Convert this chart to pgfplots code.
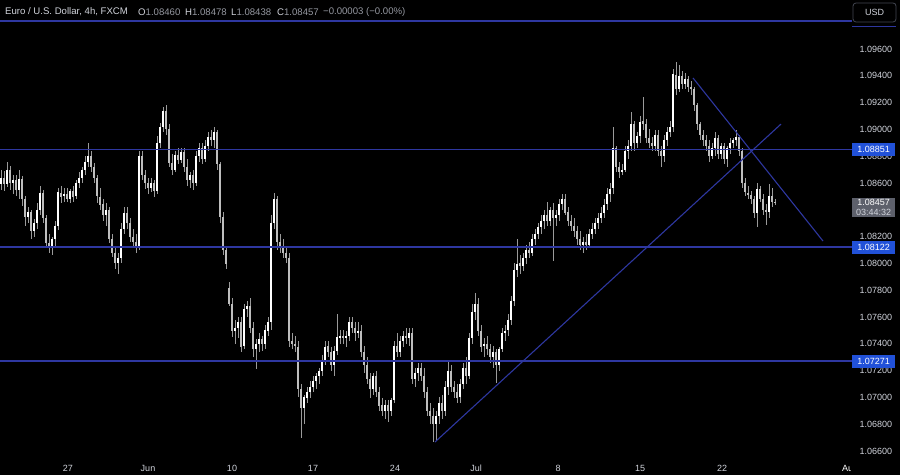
\documentclass[border=0pt]{standalone}
\usepackage{pgfplots}
\pgfplotsset{compat=1.18}
\usepackage{pgfplotstable}
\usepackage{fontspec}
\setmainfont{Liberation Sans}
\definecolor{lvl}{HTML}{2E37A0}
\definecolor{txt}{HTML}{D1D4DC}
\definecolor{val}{HTML}{9598A1}
\definecolor{lblue}{HTML}{2151D8}
\definecolor{lgray}{HTML}{5D606B}
\definecolor{wick}{HTML}{9A9A9A}
\definecolor{dn}{HTML}{BEBEBE}
\definecolor{btn}{HTML}{434651}

\pgfplotstableread{
x o h l c
1 1.0859 1.0870 1.0855 1.0864
4 1.0864 1.0869 1.0854 1.0859
7 1.0859 1.0876 1.0857 1.0870
10 1.0870 1.0873 1.0855 1.0860
13 1.0860 1.0866 1.0852 1.0862
16 1.0862 1.0866 1.0850 1.0855
19 1.0855 1.0870 1.0848 1.0863
22 1.0863 1.0865 1.0843 1.0848
25 1.0848 1.0850 1.0828 1.0835
28 1.0835 1.0842 1.0830 1.0838
31 1.0838 1.0840 1.0818 1.0824
34 1.0824 1.0833 1.0820 1.0830
37 1.0830 1.0845 1.0826 1.0840
40 1.0840 1.0858 1.0836 1.0853
43 1.0853 1.0855 1.0830 1.0834
46 1.0834 1.0836 1.0812 1.0815
49 1.0815 1.0822 1.0808 1.0812
52 1.0812 1.0820 1.0806 1.0818
55 1.0818 1.0832 1.0812 1.0828
58 1.0828 1.0856 1.0825 1.0853
61 1.0853 1.0858 1.0845 1.0850
64 1.0850 1.0856 1.0846 1.0852
67 1.0852 1.0856 1.0846 1.0848
70 1.0848 1.0856 1.0845 1.0854
73 1.0854 1.0858 1.0846 1.0850
76 1.0850 1.0862 1.0848 1.0860
79 1.0860 1.0868 1.0856 1.0864
82 1.0864 1.0872 1.0860 1.0870
85 1.0870 1.0880 1.0866 1.0876
88 1.0876 1.0890 1.0872 1.0880
91 1.0880 1.0884 1.0868 1.0872
94 1.0872 1.0875 1.0860 1.0864
97 1.0864 1.0866 1.0845 1.0850
100 1.0850 1.0856 1.0840 1.0844
103 1.0844 1.0848 1.0832 1.0836
106 1.0836 1.0845 1.0828 1.0840
109 1.0840 1.0842 1.0815 1.0818
112 1.0818 1.0822 1.0805 1.0808
115 1.0808 1.0812 1.0796 1.0800
118 1.0800 1.0808 1.0792 1.0804
121 1.0804 1.0830 1.0800 1.0826
124 1.0826 1.0842 1.0822 1.0838
127 1.0838 1.0842 1.0826 1.0830
130 1.0830 1.0834 1.0816 1.0820
133 1.0820 1.0826 1.0812 1.0816
136 1.0816 1.0822 1.0808 1.0813
139 1.0813 1.0884 1.0810 1.0880
142 1.0880 1.0884 1.0862 1.0866
145 1.0866 1.0870 1.0856 1.0860
148 1.0860 1.0864 1.0852 1.0856
151 1.0856 1.0864 1.0853 1.0860
154 1.0860 1.0862 1.0850 1.0854
157 1.0854 1.0895 1.0852 1.0890
160 1.0890 1.0905 1.0886 1.0902
163 1.0902 1.0917 1.0898 1.0914
166 1.0914 1.0918 1.0896 1.0900
169 1.0900 1.0904 1.0872 1.0875
172 1.0875 1.0882 1.0866 1.0870
175 1.0870 1.0884 1.0868 1.0881
178 1.0881 1.0886 1.0874 1.0877
181 1.0877 1.0886 1.0875 1.0883
184 1.0883 1.0886 1.0868 1.0872
187 1.0872 1.0878 1.0858 1.0862
190 1.0862 1.0868 1.0856 1.0866
193 1.0866 1.0870 1.0855 1.0860
196 1.0860 1.0884 1.0858 1.0880
199 1.0880 1.0890 1.0876 1.0886
202 1.0886 1.0890 1.0874 1.0878
205 1.0878 1.0892 1.0876 1.0888
208 1.0888 1.0898 1.0884 1.0894
211 1.0894 1.0900 1.0888 1.0892
214 1.0892 1.0902 1.0886 1.0898
217 1.0898 1.0900 1.0870 1.0874
220 1.0874 1.0876 1.0830 1.0835
223 1.0835 1.0838 1.0806 1.0810
226 1.0810 1.0812 1.0796 1.0800
229 1.0782 1.0786 1.0768 1.0770
232 1.0770 1.0774 1.0745 1.0750
235 1.0750 1.0758 1.0740 1.0752
238 1.0752 1.0760 1.0744 1.0756
241 1.0756 1.0760 1.0734 1.0738
244 1.0738 1.0770 1.0736 1.0766
247 1.0766 1.0772 1.0760 1.0768
250 1.0768 1.0774 1.0748 1.0752
253 1.0752 1.0756 1.0730 1.0736
256 1.0736 1.0744 1.0721 1.0740
259 1.0740 1.0748 1.0734 1.0744
262 1.0744 1.0746 1.0735 1.0740
265 1.0740 1.0754 1.0736 1.0750
268 1.0750 1.0760 1.0746 1.0756
271 1.0756 1.0836 1.0750 1.0830
274 1.0830 1.0853 1.0826 1.0848
277 1.0848 1.0850 1.0810 1.0816
280 1.0816 1.0822 1.0808 1.0812
283 1.0812 1.0818 1.0804 1.0808
286 1.0808 1.0812 1.0800 1.0804
289 1.0804 1.0808 1.0738 1.0742
292 1.0742 1.0748 1.0736 1.0740
295 1.0740 1.0746 1.0734 1.0738
298 1.0738 1.0742 1.0700 1.0706
301 1.0706 1.0710 1.0670 1.0692
304 1.0692 1.0702 1.0680 1.0700
307 1.0700 1.0708 1.0696 1.0704
310 1.0704 1.0712 1.0700 1.0708
313 1.0708 1.0716 1.0704 1.0712
316 1.0712 1.0718 1.0706 1.0716
319 1.0716 1.0722 1.0710 1.0720
322 1.0720 1.0732 1.0716 1.0728
325 1.0728 1.0742 1.0724 1.0738
328 1.0738 1.0742 1.0730 1.0734
331 1.0734 1.0738 1.0720 1.0724
334 1.0724 1.0738 1.0716 1.0735
337 1.0735 1.0762 1.0732 1.0745
340 1.0745 1.0750 1.0740 1.0746
343 1.0746 1.0750 1.0740 1.0744
346 1.0744 1.0750 1.0738 1.0746
349 1.0746 1.0760 1.0742 1.0756
352 1.0756 1.0760 1.0748 1.0752
355 1.0752 1.0756 1.0742 1.0748
358 1.0748 1.0756 1.0744 1.0750
361 1.0750 1.0754 1.0730 1.0734
364 1.0734 1.0738 1.0718 1.0724
367 1.0724 1.0730 1.0710 1.0714
370 1.0714 1.0718 1.0700 1.0706
373 1.0706 1.0718 1.0702 1.0716
376 1.0716 1.0720 1.0700 1.0704
379 1.0704 1.0708 1.0690 1.0694
382 1.0694 1.0700 1.0686 1.0690
385 1.0690 1.0698 1.0684 1.0694
388 1.0694 1.0698 1.0682 1.0690
391 1.0690 1.0700 1.0686 1.0698
394 1.0698 1.0742 1.0696 1.0738
397 1.0738 1.0748 1.0730 1.0734
400 1.0734 1.0746 1.0730 1.0742
403 1.0742 1.0750 1.0738 1.0746
406 1.0746 1.0752 1.0740 1.0744
409 1.0744 1.0752 1.0738 1.0748
412 1.0748 1.0752 1.0710 1.0714
415 1.0714 1.0722 1.0708 1.0718
418 1.0718 1.0726 1.0712 1.0722
421 1.0722 1.0726 1.0712 1.0716
424 1.0716 1.0722 1.0700 1.0704
427 1.0704 1.0708 1.0686 1.0690
430 1.0690 1.0696 1.0680 1.0686
433 1.0686 1.0692 1.0667 1.0680
436 1.0680 1.0690 1.0668 1.0686
439 1.0686 1.0700 1.0680 1.0696
442 1.0696 1.0702 1.0684 1.0690
445 1.0690 1.0712 1.0686 1.0708
448 1.0708 1.0727 1.0702 1.0720
451 1.0720 1.0724 1.0704 1.0708
454 1.0708 1.0712 1.0700 1.0704
457 1.0704 1.0710 1.0696 1.0700
460 1.0700 1.0714 1.0696 1.0710
463 1.0710 1.0726 1.0706 1.0722
466 1.0722 1.0730 1.0710 1.0716
469 1.0716 1.0748 1.0714 1.0744
472 1.0744 1.0770 1.0740 1.0764
475 1.0764 1.0778 1.0758 1.0770
478 1.0770 1.0774 1.0746 1.0750
481 1.0750 1.0754 1.0734 1.0738
484 1.0738 1.0744 1.0730 1.0740
487 1.0740 1.0746 1.0732 1.0736
490 1.0736 1.0740 1.0726 1.0730
493 1.0730 1.0738 1.0722 1.0734
496 1.0734 1.0736 1.0711 1.0724
499 1.0724 1.0738 1.0720 1.0736
502 1.0736 1.0752 1.0734 1.0748
505 1.0748 1.0754 1.0742 1.0750
508 1.0750 1.0762 1.0746 1.0758
511 1.0758 1.0776 1.0754 1.0772
514 1.0772 1.0800 1.0768 1.0795
517 1.0795 1.0818 1.0790 1.0800
520 1.0800 1.0806 1.0792 1.0798
523 1.0798 1.0808 1.0794 1.0804
526 1.0804 1.0814 1.0800 1.0810
529 1.0810 1.0816 1.0804 1.0808
532 1.0808 1.0822 1.0806 1.0818
535 1.0818 1.0826 1.0814 1.0822
538 1.0822 1.0830 1.0818 1.0827
541 1.0827 1.0836 1.0822 1.0832
544 1.0832 1.0840 1.0826 1.0836
547 1.0836 1.0846 1.0828 1.0832
550 1.0832 1.0842 1.0828 1.0840
553 1.0840 1.0845 1.0802 1.0834
556 1.0834 1.0840 1.0828 1.0836
559 1.0836 1.0848 1.0832 1.0844
562 1.0844 1.0852 1.0840 1.0848
565 1.0848 1.0852 1.0836 1.0838
568 1.0838 1.0842 1.0828 1.0832
571 1.0832 1.0836 1.0824 1.0828
574 1.0828 1.0834 1.0820 1.0824
577 1.0824 1.0828 1.0814 1.0818
580 1.0818 1.0824 1.0810 1.0814
583 1.0814 1.0820 1.0808 1.0816
586 1.0816 1.0822 1.0810 1.0814
589 1.0814 1.0826 1.0812 1.0822
592 1.0822 1.0830 1.0818 1.0826
595 1.0826 1.0834 1.0822 1.0830
598 1.0830 1.0838 1.0826 1.0834
601 1.0834 1.0842 1.0830 1.0838
604 1.0838 1.0848 1.0834 1.0844
607 1.0844 1.0856 1.0840 1.0852
610 1.0852 1.0860 1.0846 1.0856
613 1.0856 1.0902 1.0852 1.0886
616 1.0886 1.0888 1.0868 1.0872
619 1.0872 1.0876 1.0864 1.0868
622 1.0868 1.0874 1.0866 1.0870
625 1.0870 1.0888 1.0868 1.0884
628 1.0884 1.0892 1.0878 1.0888
631 1.0888 1.0913 1.0884 1.0904
634 1.0904 1.0906 1.0884 1.0890
637 1.0890 1.0898 1.0886 1.0895
640 1.0895 1.0910 1.0890 1.0906
643 1.0906 1.0924 1.0900 1.0904
646 1.0904 1.0908 1.0890 1.0894
649 1.0894 1.0900 1.0886 1.0890
652 1.0890 1.0894 1.0884 1.0888
655 1.0888 1.0900 1.0884 1.0896
658 1.0896 1.0900 1.0880 1.0884
661 1.0884 1.0888 1.0872 1.0880
664 1.0880 1.0896 1.0876 1.0892
667 1.0892 1.0902 1.0888 1.0898
670 1.0898 1.0906 1.0894 1.0902
673 1.0902 1.0945 1.0898 1.0941
676 1.0941 1.0950 1.0926 1.0930
679 1.0930 1.0948 1.0928 1.0940
682 1.0940 1.0944 1.0930 1.0934
685 1.0934 1.0942 1.0930 1.0938
688 1.0938 1.0940 1.0928 1.0932
691 1.0932 1.0936 1.0926 1.0930
694 1.0930 1.0932 1.0914 1.0918
697 1.0918 1.0920 1.0900 1.0904
700 1.0904 1.0906 1.0892 1.0896
703 1.0896 1.0900 1.0888 1.0892
706 1.0892 1.0896 1.0884 1.0888
709 1.0888 1.0892 1.0876 1.0880
712 1.0880 1.0890 1.0878 1.0886
715 1.0886 1.0898 1.0880 1.0894
718 1.0894 1.0896 1.0878 1.0882
721 1.0882 1.0890 1.0878 1.0888
724 1.0888 1.0890 1.0874 1.0878
727 1.0878 1.0888 1.0872 1.0886
730 1.0886 1.0894 1.0882 1.0890
733 1.0890 1.0894 1.0886 1.0892
736 1.0892 1.0900 1.0888 1.0894
739 1.0894 1.0896 1.0880 1.0884
742 1.0884 1.0886 1.0856 1.0860
745 1.0860 1.0864 1.0850 1.0853
748 1.0853 1.0858 1.0848 1.0851
751 1.0851 1.0854 1.0844 1.0848
754 1.0848 1.0850 1.0834 1.0838
757 1.0838 1.0860 1.0827 1.0856
760 1.0856 1.0858 1.0846 1.0848
763 1.0848 1.0852 1.0836 1.0840
766 1.0840 1.0844 1.0829 1.0838
769 1.0838 1.0859 1.0834 1.0850
772 1.0850 1.0856 1.0842 1.0846
775 1.08460 1.08478 1.08438 1.08457
}\candles

\begin{document}
\begin{tikzpicture}
\fill[black] (0pt,0pt) rectangle (900pt,475pt);
\useasboundingbox (0pt,0pt) rectangle (900pt,475pt);
\begin{axis}[
  at={(0pt,20pt)}, anchor=south west,
  width=845pt, height=455pt, scale only axis,
  xmin=0, xmax=845, ymin=1.06570, ymax=1.09966,
  axis line style={draw=none},
  major tick length=0pt,
  clip=false,
  xtick={68,148,232,313,395,476,558,640,722},
  xticklabels={27,Jun,10,17,24,Jul,8,15,22},
  xticklabel style={anchor=base, yshift=-16pt, text=txt, font=\fontsize{9}{10}\selectfont},
  ytick={1.066,1.068,1.070,1.072,1.074,1.076,1.078,1.080,1.082,1.084,1.086,1.088,1.090,1.092,1.094,1.096},
  yticklabel pos=right,
  yticklabel style={anchor=west, xshift=11pt, text=txt, font=\fontsize{9}{10}\selectfont,
    /pgf/number format/.cd, fixed, fixed zerofill, precision=5, assume math mode=true},
]
% wicks
\addplot[draw=none, mark=none, forget plot,
  error bars/.cd, y dir=both, y explicit, error mark=none,
  error bar style={draw=wick, line width=0.8pt}]
  table[x=x, y expr={(\thisrow{h}+\thisrow{l})/2}, y error expr={(\thisrow{h}-\thisrow{l})/2}] {\candles};
% up bodies
\addplot[draw=none, mark=none, forget plot,
  restrict expr to domain={\thisrow{c}-\thisrow{o}}{0:1},
  error bars/.cd, y dir=both, y explicit, error mark=none,
  error bar style={draw=white, line width=2.2pt}]
  table[x=x, y expr={(\thisrow{o}+\thisrow{c})/2}, y error expr={abs(\thisrow{c}-\thisrow{o})/2}] {\candles};
% down bodies
\addplot[draw=none, mark=none, forget plot,
  restrict expr to domain={\thisrow{c}-\thisrow{o}}{-1:-0.000001},
  error bars/.cd, y dir=both, y explicit, error mark=none,
  error bar style={draw=dn, line width=2.2pt}]
  table[x=x, y expr={(\thisrow{o}+\thisrow{c})/2}, y error expr={abs(\thisrow{c}-\thisrow{o})/2}] {\candles};
% horizontal levels
\addplot[color=lvl, line width=1.25pt, forget plot] coordinates {(0,1.0981) (852,1.0981)};
\addplot[color=lvl, line width=1.25pt, forget plot] coordinates {(0,1.08851) (852,1.08851)};
\addplot[color=lvl, line width=1.25pt, forget plot] coordinates {(0,1.08122) (852,1.08122)};
\addplot[color=lvl, line width=1.25pt, forget plot] coordinates {(0,1.07271) (852,1.07271)};
% trend lines
\addplot[color=lvl, line width=1.1pt, forget plot] coordinates {(435,1.06667) (781,1.09040)};
\addplot[color=lvl, line width=1.1pt, forget plot] coordinates {(693,1.09384) (823,1.08167)};
% price labels
\node[fill=lblue, text=white, anchor=west, minimum width=43pt, minimum height=13pt, inner sep=1pt, font=\fontsize{9}{10}\selectfont] at (axis cs:852,1.08851) {1.08851};
\node[fill=lblue, text=white, anchor=west, minimum width=43pt, minimum height=13pt, inner sep=1pt, font=\fontsize{9}{10}\selectfont] at (axis cs:852,1.08122) {1.08122};
\node[fill=lblue, text=white, anchor=west, minimum width=43pt, minimum height=13pt, inner sep=1pt, font=\fontsize{9}{10}\selectfont] at (axis cs:852,1.07271) {1.07271};
\node[fill=lgray, anchor=west, minimum width=43pt, inner sep=1.5pt, align=center, font=\fontsize{9}{10.5}\selectfont] at (axis cs:852,1.08417) {\textcolor{white}{1.08457}\\\textcolor{txt}{03:44:32}};
\end{axis}
% header
\node[anchor=west, text=txt, font=\fontsize{9.6}{10}\selectfont, inner sep=0pt] at (5pt,463pt) {Euro / U.S. Dollar, 4h, FXCM};
\node[anchor=west, font=\fontsize{9.6}{10}\selectfont, inner sep=0pt] at (138pt,463pt) {\textcolor{txt}{O}\textcolor{val}{1.08460}};
\node[anchor=west, font=\fontsize{9.6}{10}\selectfont, inner sep=0pt] at (185pt,463pt) {\textcolor{txt}{H}\textcolor{val}{1.08478}};
\node[anchor=west, font=\fontsize{9.6}{10}\selectfont, inner sep=0pt] at (231pt,463pt) {\textcolor{txt}{L}\textcolor{val}{1.08438}};
\node[anchor=west, font=\fontsize{9.6}{10}\selectfont, inner sep=0pt] at (277pt,463pt) {\textcolor{txt}{C}\textcolor{val}{1.08457}};
\node[anchor=west, text=val, font=\fontsize{9.6}{10}\selectfont, inner sep=0pt] at (323pt,463pt) {−0.00003 (−0.00\%)};
% USD button
\draw[btn, rounded corners=3pt, line width=0.8pt] (853pt,453pt) rectangle (896pt,472pt);
\node[text=txt, font=\fontsize{9}{10}\selectfont] at (874.5pt,462.5pt) {USD};
\draw[lvl, line width=1pt] (852pt,448pt) -- (896pt,448pt);
% cut month label
\node[anchor=base west, text=white, inner sep=0pt, font=\fontsize{9}{10}\selectfont] at (842pt,4pt) {Au};
\fill[black] (851pt,0pt) rectangle (900pt,17pt);
\end{tikzpicture}
\end{document}
